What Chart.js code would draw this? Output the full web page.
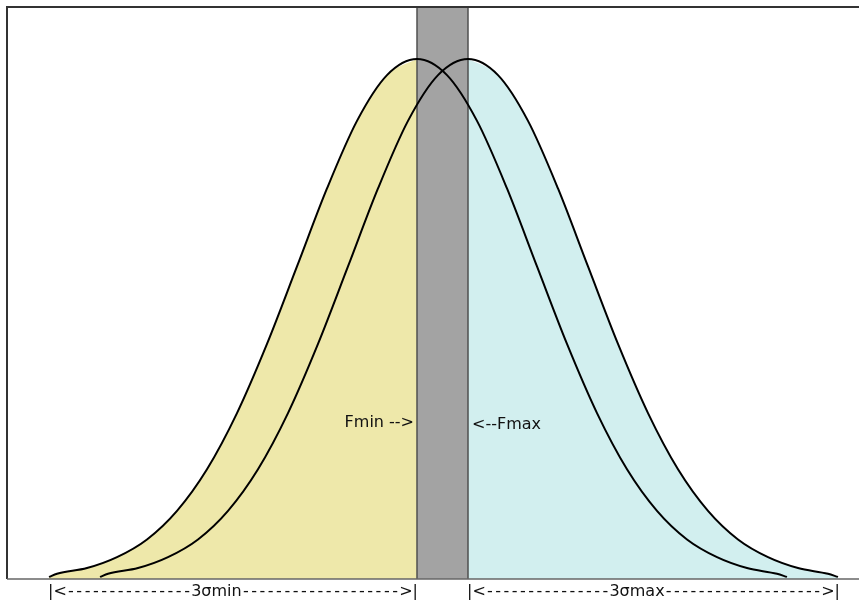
<!DOCTYPE html>
<html lang="en">
<head>
<meta charset="UTF-8">
<title>Fmin / Fmax</title>
<script src="https://cdn.jsdelivr.net/npm/chart.js@4"></script>
<style>
  html, body { margin: 0; padding: 0; background: #fff; }
  canvas { display: block; }
</style>
</head>
<body>
<canvas id="chart" width="859" height="603"></canvas>
<script>
// curve centred on Fmin (left)
const minX = [4.2, 5.0, 8.0, 11.0, 14.0, 17.0, 20.0, 23.0, 26.0, 29.0, 32.0, 35.0, 38.0, 41.0,
              44.0, 47.0, 50.0, 53.0, 56.0, 59.0, 62.0, 65.0, 68.0, 71.0, 74.0, 77.0, 78.0];
const minY = [0.004, 0.010, 0.021, 0.042, 0.076, 0.131, 0.211, 0.319, 0.452, 0.601, 0.751, 0.881, 0.969, 1.000,
              0.969, 0.881, 0.751, 0.601, 0.452, 0.319, 0.211, 0.131, 0.076, 0.042, 0.021, 0.010, 0.004];
// curve centred on Fmax (right)
const maxX = [9.3, 10.1, 13.1, 16.1, 19.1, 22.1, 25.1, 28.1, 31.1, 34.1, 37.1, 40.1, 43.1, 46.1,
              49.1, 52.1, 55.1, 58.1, 61.1, 64.1, 67.1, 70.1, 73.1, 76.1, 79.1, 82.1, 83.1];
const maxY = [0.004, 0.010, 0.021, 0.042, 0.076, 0.131, 0.211, 0.319, 0.452, 0.601, 0.751, 0.881, 0.969, 1.000,
              0.969, 0.881, 0.751, 0.601, 0.452, 0.319, 0.211, 0.131, 0.076, 0.042, 0.021, 0.010, 0.004];

const fMin = 41.0;
const fMax = 46.1;
const xEnd = 85.2;
const yTop = 1.1;

const minLabel = 'Fmin -->';
const maxLabel = '<--Fmax';
const minSpanLabel = '3σmin';
const maxSpanLabel = '3σmax';
const labelLevel = 0.30;

const pts = (xs, ys) => xs.map((x, i) => ({ x: x, y: ys[i] }));
const minPts = pts(minX, minY);
const maxPts = pts(maxX, maxY);

const FONT = '16px "DejaVu Sans", sans-serif';

function spanText(ctx, x0, x1, label, nLeft, nRight, y) {
    const wL = ctx.measureText('|<').width;
    const wR = ctx.measureText('>|').width;
    const wT = ctx.measureText(label).width;
    const wD = ctx.measureText('-').width;
    const p = (x1 - x0 - wL - wR - wT) / (nLeft + nRight);
    ctx.fillText('|<', x0, y);
    for (let i = 0; i < nLeft; i++) ctx.fillText('-', x0 + wL + i * p + (p - wD) / 2, y);
    const lx = x0 + wL + nLeft * p;
    ctx.fillText(label, lx, y);
    for (let i = 0; i < nRight; i++) ctx.fillText('-', lx + wT + i * p + (p - wD) / 2, y);
    ctx.fillText('>|', x1 - wR, y);
}

const decor = {
    id: 'decor',
    afterDatasetsDraw(chart) {
        const { ctx, chartArea: a } = chart;
        ctx.save();
        ctx.strokeStyle = '#333';
        ctx.lineWidth = 2;
        ctx.beginPath();
        ctx.moveTo(a.right, a.top);
        ctx.lineTo(a.left, a.top);
        ctx.lineTo(a.left, a.bottom);
        ctx.stroke();
        ctx.strokeStyle = '#666';
        ctx.lineWidth = 1.5;
        ctx.beginPath();
        ctx.moveTo(a.left, a.bottom);
        ctx.lineTo(a.right, a.bottom);
        ctx.stroke();
        ctx.restore();
    },
    afterDraw(chart) {
        const { ctx, chartArea: a } = chart;
        const xs = chart.scales.x, ys = chart.scales.y;
        ctx.save();
        ctx.font = FONT;
        ctx.fillStyle = '#111';
        ctx.textBaseline = 'middle';
        const ly = ys.getPixelForValue(labelLevel);
        ctx.textAlign = 'right';
        ctx.fillText(minLabel, xs.getPixelForValue(fMin) - 3, ly);
        ctx.textAlign = 'left';
        ctx.fillText(maxLabel, xs.getPixelForValue(fMax) + 4, ly + 2);
        const by = a.bottom + 13;
        spanText(ctx, xs.getPixelForValue(minX[0]) - 1, xs.getPixelForValue(fMin) + 1, minSpanLabel, 15, 19, by);
        spanText(ctx, xs.getPixelForValue(fMax) - 1, xs.getPixelForValue(maxX[maxX.length - 1]) + 2, maxSpanLabel, 15, 19, by);
        ctx.restore();
    }
};

new Chart(document.getElementById('chart'), {
    type: 'line',
    data: {
        datasets: [
            {
                data: minPts, borderColor: '#000', borderWidth: 2, fill: false,
                cubicInterpolationMode: 'monotone', pointRadius: 0, order: 0
            },
            {
                data: maxPts, borderColor: '#000', borderWidth: 2, fill: false,
                cubicInterpolationMode: 'monotone', pointRadius: 0, order: 0
            },
            {
                data: [{ x: fMin, y: 0 }, { x: fMin, y: yTop }, { x: fMax, y: yTop }, { x: fMax, y: 0 }],
                borderColor: '#505050', borderWidth: 1.5, backgroundColor: '#a3a3a3',
                fill: 'origin', tension: 0, pointRadius: 0, order: 1
            },
            {
                data: minPts.filter(p => p.x <= fMin), borderWidth: 0, backgroundColor: '#eee8aa',
                fill: 'origin', cubicInterpolationMode: 'monotone', pointRadius: 0, order: 2
            },
            {
                data: maxPts.filter(p => p.x >= fMax), borderWidth: 0, backgroundColor: '#d2efef',
                fill: 'origin', cubicInterpolationMode: 'monotone', pointRadius: 0, order: 2
            }
        ]
    },
    options: {
        responsive: false,
        animation: false,
        layout: { padding: { left: 7, top: 7, right: 0, bottom: 24 } },
        plugins: { legend: { display: false }, tooltip: { enabled: false } },
        scales: {
            x: { type: 'linear', min: 0, max: xEnd, display: false },
            y: { min: 0, max: yTop, display: false }
        }
    },
    plugins: [decor]
});
</script>
</body>
</html>
